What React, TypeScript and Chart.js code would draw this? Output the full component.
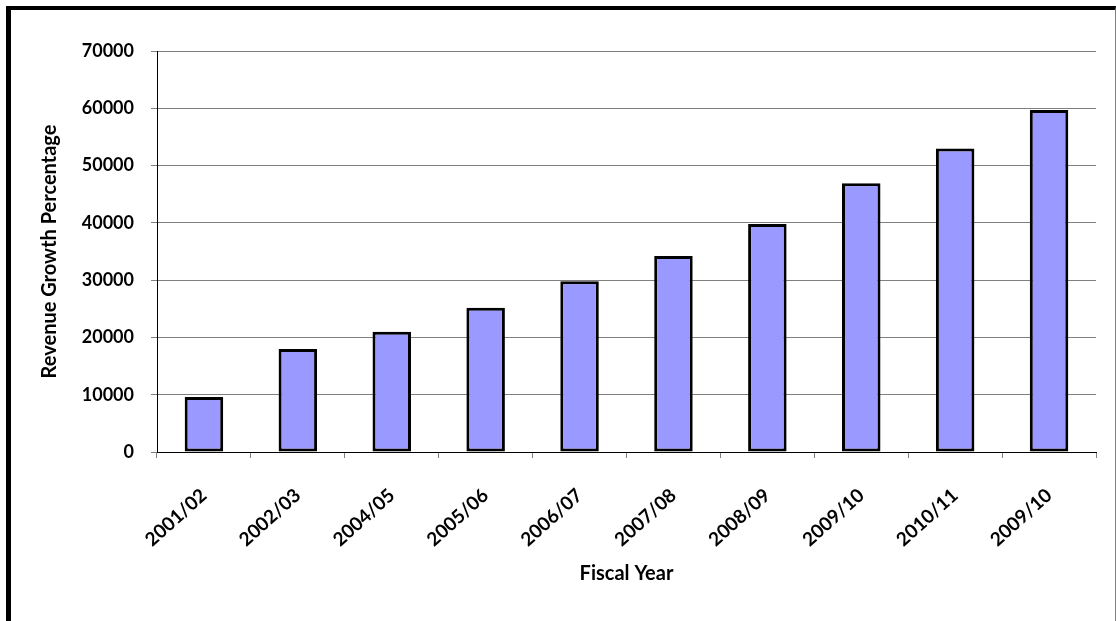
import React, { useEffect, useRef } from "react";
import { Chart, registerables } from "chart.js";

Chart.register(...registerables);

// Fiscal years as labelled on the category axis (order as printed)
const fiscalYears: string[] = [
  "2001/02",
  "2002/03",
  "2004/05",
  "2005/06",
  "2006/07",
  "2007/08",
  "2008/09",
  "2009/10",
  "2010/11",
  "2009/10",
];

// Revenue growth values per fiscal year
const revenueGrowth: number[] = [
  9600, 18000, 21000, 25200, 29800, 34200, 39800, 46900, 53000, 59700,
];

// Value axis range
const yMin = 0;
const yMax = 70000;
const yStep = 10000;

const FONT = "Lato, 'Open Sans', 'Liberation Sans', sans-serif";

export default function App() {
  const canvasRef = useRef<HTMLCanvasElement | null>(null);

  useEffect(() => {
    const canvas = canvasRef.current;
    if (!canvas) return;

    const chart = new Chart(canvas, {
      type: "bar",
      data: {
        labels: fiscalYears,
        datasets: [
          {
            label: "Revenue Growth",
            data: revenueGrowth,
            backgroundColor: "#9999FF",
            borderColor: "#000000",
            borderWidth: 3,
            borderSkipped: false,
            barPercentage: 0.41,
            categoryPercentage: 1,
          },
        ],
      },
      options: {
        responsive: false,
        animation: false,
        maintainAspectRatio: false,
        layout: { padding: { left: 12, top: 51, right: 20, bottom: 0 } },
        plugins: {
          legend: { display: false },
          tooltip: { enabled: false },
          title: { display: false },
        },
        scales: {
          x: {
            grid: {
              display: true,
              drawOnChartArea: false,
              drawTicks: true,
              tickLength: 6,
              color: "#808080",
              offset: true,
            },
            border: { display: true, color: "#000000", width: 1 },
            ticks: {
              color: "#000000",
              font: { family: FONT, size: 19, weight: "bold" },
              minRotation: 42,
              maxRotation: 42,
              padding: 26,
              autoSkip: false,
            },
            title: {
              display: true,
              text: "Fiscal Year",
              color: "#000000",
              font: { family: FONT, size: 20, weight: "bold" },
              padding: { top: 0, bottom: 35 },
            },
            afterFit: (scale: any) => {
              scale.height = 169;
            },
          },
          y: {
            min: yMin,
            max: yMax,
            grid: {
              color: "#808080",
              lineWidth: 1,
              tickLength: 6,
            },
            border: { display: true, color: "#000000", width: 1 },
            ticks: {
              stepSize: yStep,
              color: "#000000",
              font: { family: FONT, size: 18, weight: "bold" },
              padding: 17,
              callback: (value: any) => String(value),
            },
            title: {
              display: true,
              text: "Revenue Growth Percentage",
              color: "#000000",
              font: { family: FONT, size: 20, weight: "bold" },
              padding: { top: 26, bottom: 0 },
            },
            afterFit: (scale: any) => {
              scale.width = 145;
            },
          },
        },
      },
    });

    return () => {
      chart.destroy();
    };
  }, []);

  return (
    <div
      style={{
        position: "absolute",
        left: 0,
        top: 0,
        width: 1116,
        height: 621,
        overflow: "hidden",
        background: "#ffffff",
      }}
    >
      <div
        style={{
          position: "absolute",
          left: 6,
          top: 6,
          width: 1110,
          height: 700,
          boxSizing: "border-box",
          borderLeft: "5px solid #000000",
          borderTop: "4px solid #000000",
          borderRight: "1px solid #7f7f7f",
        }}
      />
      <canvas
        ref={canvasRef}
        width={1116}
        height={621}
        style={{ position: "absolute", left: 0, top: 0, width: 1116, height: 621 }}
      />
    </div>
  );
}
